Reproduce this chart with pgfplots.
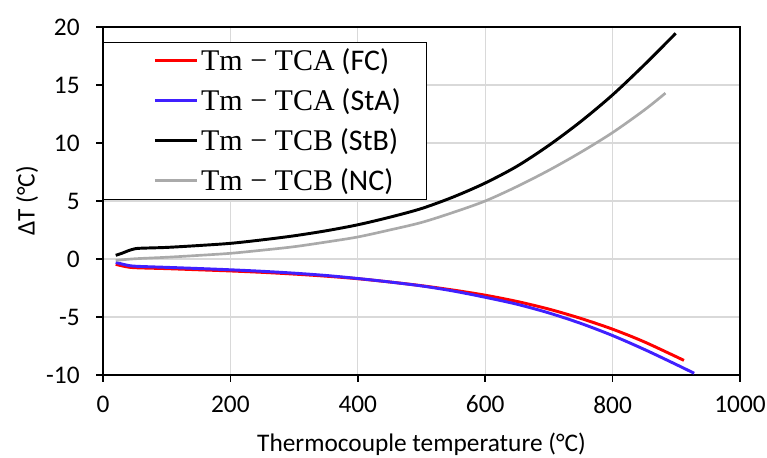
\documentclass[border=0pt]{standalone}
\usepackage{pgfplots}
\pgfplotsset{compat=1.18}
\usepackage{fontspec}
\setmainfont{Carlito}
\newfontfamily\serifleg{Liberation Serif}
\definecolor{myblue}{RGB}{64,32,255}
\definecolor{mygray}{RGB}{170,170,170}
\definecolor{gridgray}{RGB}{217,217,217}
\begin{document}
\begin{tikzpicture}
\path[use as bounding box] (-77.25pt,-61.5pt) rectangle (498pt,281.25pt);
\begin{axis}[
  scale only axis,
  width=477.75pt, height=261pt,
  xmin=0, xmax=1000, ymin=-10, ymax=20,
  xtick={0,200,...,1000}, ytick={-10,-5,...,20},
  xtick pos=bottom, ytick pos=left,
  grid=major,
  major grid style={gridgray, line width=0.9pt},
  axis line style={black, line width=1.3pt},
  tick align=outside,
  tick style={black, line width=1.1pt},
  major tick length=5pt,
  /pgf/number format/assume math mode=true,
  /pgf/number format/1000 sep={},
  ticklabel style={font=\fontsize{19}{21}\selectfont},
  xticklabel style={yshift=-7pt},
  yticklabel style={xshift=-9pt},
  label style={font=\fontsize{19}{21}\selectfont},
  xlabel={Thermocouple temperature (°C)},
  ylabel={ΔT (°C)},
  xlabel style={at={([yshift=-57pt]axis description cs:0.5,0)}, anchor=base},
  ylabel style={at={([xshift=-57pt]axis description cs:0,0.5)}, anchor=center},
  legend cell align=left,
  legend style={at={(0,0.957)}, anchor=north west, draw=black, line width=0.8pt,
    font=\fontsize{22.5}{25}\selectfont, inner xsep=17pt, inner ysep=2.8pt,
    row sep=8pt},
  legend image code/.code={\draw[white, line width=0.2pt] (-21.5pt,0pt) -- (0pt,0pt); \draw[#1, line width=2.2pt] (0pt,0pt) -- (31.5pt,0pt);},
]
\addplot[red, line width=2.2pt, smooth] coordinates {
(20,-0.46) (35,-0.65) (50,-0.75) (100,-0.83) (150,-0.93) (200,-1.03) (250,-1.15) (300,-1.3) (350,-1.48) (400,-1.7) (450,-1.98) (500,-2.3) (550,-2.68) (600,-3.12) (650,-3.66) (700,-4.32) (750,-5.12) (800,-6.05) (850,-7.15) (912,-8.74)};
\addlegendentry{{\serifleg Tm − TCA} (FC)}
\addplot[myblue, line width=2.2pt, smooth] coordinates {
(20,-0.3) (35,-0.5) (50,-0.62) (100,-0.72) (150,-0.82) (200,-0.93) (250,-1.06) (300,-1.22) (350,-1.42) (400,-1.68) (450,-1.98) (500,-2.32) (550,-2.76) (600,-3.3) (650,-3.9) (700,-4.65) (750,-5.55) (800,-6.6) (850,-7.8) (900,-9.1) (928,-9.85)};
\addlegendentry{{\serifleg Tm − TCA} (StA)}
\addplot[black, line width=2.2pt, smooth] coordinates {
(20,0.32) (30,0.5) (40,0.72) (50,0.88) (60,0.93) (100,1.0) (150,1.16) (200,1.35) (250,1.65) (300,2.0) (350,2.43) (400,2.95) (450,3.6) (500,4.35) (550,5.35) (600,6.55) (650,8.0) (700,9.8) (750,11.85) (800,14.15) (850,16.75) (899,19.45)};
\addlegendentry{{\serifleg Tm − TCB} (StB)}
\addplot[mygray, line width=2pt, smooth] coordinates {
(20,-0.12) (50,0.02) (100,0.15) (150,0.31) (200,0.49) (250,0.76) (300,1.06) (350,1.46) (400,1.9) (450,2.5) (500,3.15) (550,4.02) (600,5.0) (650,6.25) (700,7.65) (750,9.2) (800,10.9) (850,12.85) (883,14.3)};
\addlegendentry{{\serifleg Tm − TCB} (NC)}
\end{axis}
\end{tikzpicture}
\end{document}
